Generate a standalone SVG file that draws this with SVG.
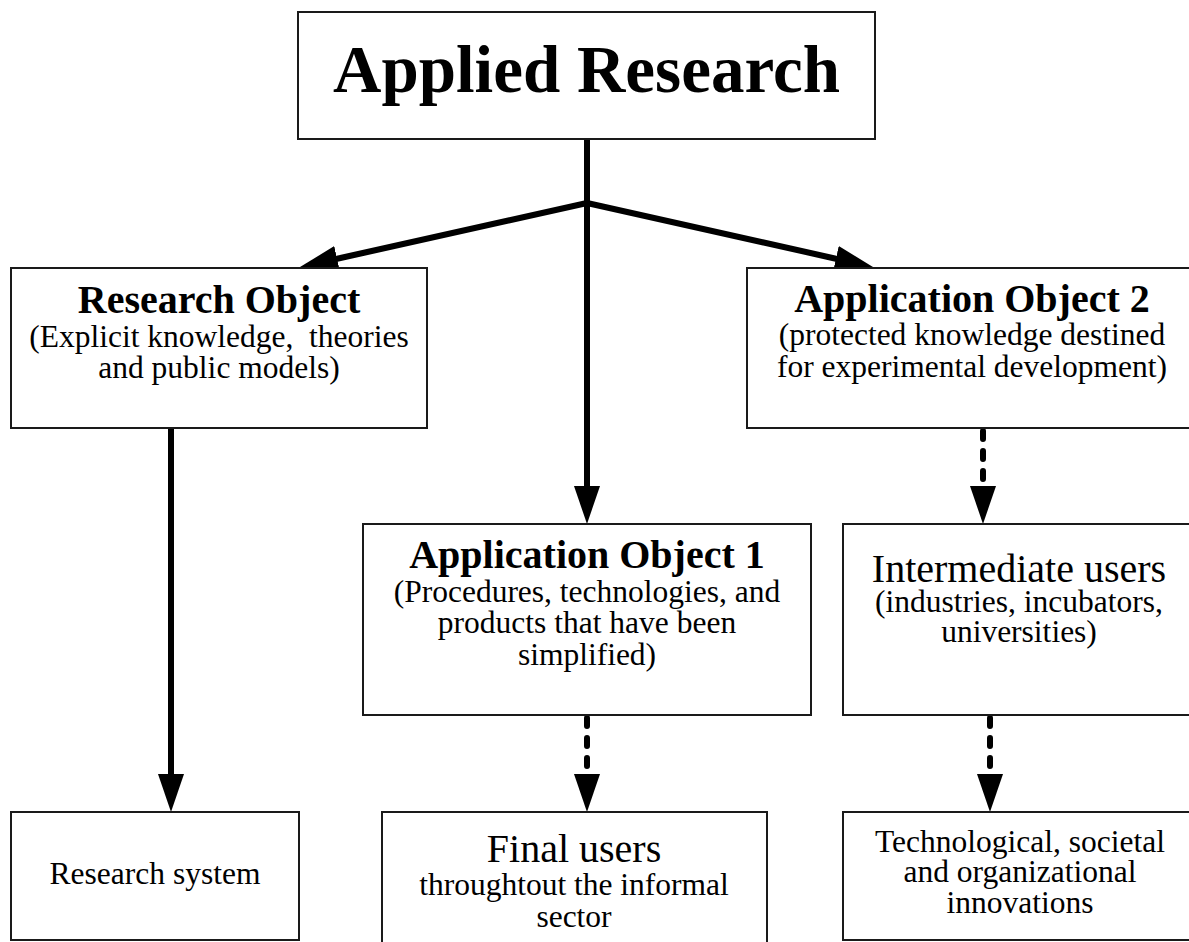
<svg xmlns="http://www.w3.org/2000/svg" width="1189" height="942" viewBox="0 0 1189 942">
<style>
.box{fill:#fff;stroke:#1a1a1a;stroke-width:2}
.t{fill:#000;text-anchor:middle}
.b{font-weight:bold}
.big{font-size:67px}
.h{font-size:40px}
.s{font-size:31.5px}
.solid{fill:none;stroke:#000;stroke-width:6;stroke-linecap:round}
.dash{fill:none;stroke:#000;stroke-width:6;stroke-linecap:round;stroke-dasharray:8 12}
</style>
<defs>
<marker id="ah" markerUnits="userSpaceOnUse" markerWidth="38" markerHeight="26" refX="0" refY="13" orient="auto" viewBox="0 0 38 26">
<path d="M0,0 L38,13 L0,26 z" fill="#000"/>
</marker>
</defs>
<g id="connectors">
<path class="solid" d="M587,139 L587,486" marker-end="url(#ah)"/>
<path class="solid" d="M587,203 L337.1,258.8" marker-end="url(#ah)"/>
<path class="solid" d="M587,203 L835.9,258.7" marker-end="url(#ah)"/>
<path class="solid" d="M171,428 L171,774" marker-end="url(#ah)"/>
<path class="dash" d="M983,431 L983,486"/>
<path d="M983,486 L983,486.01" marker-end="url(#ah)" stroke="none" fill="none"/>
<path class="dash" d="M587,718 L587,774"/>
<path d="M587,774 L587,774.01" marker-end="url(#ah)" stroke="none" fill="none"/>
<path class="dash" d="M990,718 L990,774"/>
<path d="M990,774 L990,774.01" marker-end="url(#ah)" stroke="none" fill="none"/>
</g>
<g font-family="Times New Roman, Liberation Serif, Tinos, Nimbus Roman, serif">
<g id="applied-research">
<rect class="box" x="298" y="12" width="577" height="127"/>
<text class="t b big" x="586.5" y="92">Applied Research</text>
</g>
<g id="research-object">
<rect class="box" x="11" y="268" width="416" height="160"/>
<text class="t b h" x="219" y="313">Research Object</text>
<text class="t s" x="219" y="347" xml:space="preserve">(Explicit knowledge,  theories</text>
<text class="t s" x="219" y="378">and public models)</text>
</g>
<g id="application-object-2">
<rect class="box" x="747" y="268" width="450" height="160"/>
<text class="t b h" x="972" y="312">Application Object 2</text>
<text class="t s" x="972" y="345">(protected knowledge destined</text>
<text class="t s" x="972" y="377">for experimental development)</text>
</g>
<g id="application-object-1">
<rect class="box" x="363" y="524" width="448" height="191"/>
<text class="t b h" x="587" y="568">Application Object 1</text>
<text class="t s" x="587" y="602">(Procedures, technologies, and</text>
<text class="t s" x="587" y="633">products that have been</text>
<text class="t s" x="587" y="665">simplified)</text>
</g>
<g id="intermediate-users">
<rect class="box" x="843" y="524" width="354" height="191"/>
<text class="t h" x="1019" y="582">Intermediate users</text>
<text class="t s" x="1019" y="612">(industries, incubators,</text>
<text class="t s" x="1019" y="642">universities)</text>
</g>
<g id="research-system">
<rect class="box" x="11" y="812" width="288" height="128"/>
<text class="t s" x="155" y="884">Research system</text>
</g>
<g id="final-users">
<rect class="box" x="382" y="812" width="385" height="140"/>
<text class="t h" x="574" y="862">Final users</text>
<text class="t s" x="574" y="895">throughtout the informal</text>
<text class="t s" x="574" y="927">sector</text>
</g>
<g id="innovations">
<rect class="box" x="843" y="812" width="354" height="128"/>
<text class="t s" x="1020" y="852">Technological, societal</text>
<text class="t s" x="1020" y="882">and organizational</text>
<text class="t s" x="1020" y="913">innovations</text>
</g>
</g>
</svg>
